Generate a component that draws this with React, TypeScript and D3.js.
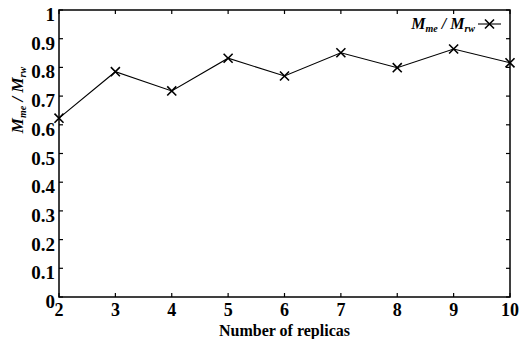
import { useEffect, useRef } from 'react';
import * as d3 from 'd3';

const replicas = [2, 3, 4, 5, 6, 7, 8, 9, 10];
const ratio = [0.623, 0.785, 0.718, 0.832, 0.77, 0.851, 0.799, 0.864, 0.816];
const yTicks = [0, 0.1, 0.2, 0.3, 0.4, 0.5, 0.6, 0.7, 0.8, 0.9, 1];
const yTickLabels = ['0', '0.1', '0.2', '0.3', '0.4', '0.5', '0.6', '0.7', '0.8', '0.9', '1'];

const App = () => {
  const svgRef = useRef<SVGSVGElement>(null);

  useEffect(() => {
    const width = 520;
    const height = 339;
    const margin = { top: 10, right: 10, bottom: 42, left: 59 };
    const font = 'Liberation Serif, Times New Roman, DejaVu Serif, serif';

    const svg = d3.select(svgRef.current);
    svg.selectAll('*').remove();
    svg.attr('width', width).attr('height', height).attr('font-family', font);

    const innerWidth = width - margin.left - margin.right;
    const innerHeight = height - margin.top - margin.bottom;

    const chart = svg.append('g')
      .attr('transform', `translate(${margin.left},${margin.top})`);

    const x = d3.scaleLinear().domain([2, 10]).range([0, innerWidth]);
    const y = d3.scaleLinear().domain([0, 1]).range([innerHeight, 0]);

    // ticks on all four sides, pointing inward
    const tickLen = 4;
    const tickStyle = (g: any) => g.attr('stroke', '#000').attr('stroke-width', 1.2);
    replicas.forEach(v => {
      chart.append('line').attr('x1', x(v)).attr('x2', x(v)).attr('y1', innerHeight).attr('y2', innerHeight - tickLen).call(tickStyle);
      chart.append('line').attr('x1', x(v)).attr('x2', x(v)).attr('y1', 0).attr('y2', tickLen).call(tickStyle);
    });
    yTicks.forEach(v => {
      chart.append('line').attr('x1', 0).attr('x2', tickLen).attr('y1', y(v)).attr('y2', y(v)).call(tickStyle);
      chart.append('line').attr('x1', innerWidth).attr('x2', innerWidth - tickLen).attr('y1', y(v)).attr('y2', y(v)).call(tickStyle);
    });

    // box
    chart.append('rect')
      .attr('width', innerWidth)
      .attr('height', innerHeight)
      .attr('fill', 'none')
      .attr('stroke', '#000')
      .attr('stroke-width', 1.5);

    // tick labels
    chart.selectAll('.xl')
      .data(replicas)
      .enter()
      .append('text')
      .attr('x', d => x(d))
      .attr('y', innerHeight + 19)
      .attr('text-anchor', 'middle')
      .attr('font-weight', 'bold')
      .attr('font-size', 18)
      .text(d => d);

    chart.selectAll('.yl')
      .data(yTicks)
      .enter()
      .append('text')
      .attr('x', -4)
      .attr('y', d => y(d) + 11)
      .attr('text-anchor', 'end')
      .attr('font-weight', 'bold')
      .attr('font-size', 19)
      .text((d, i) => yTickLabels[i]);

    // axis titles
    svg.append('text')
      .attr('x', margin.left + innerWidth / 2)
      .attr('y', 336)
      .attr('text-anchor', 'middle')
      .attr('font-weight', 'bold')
      .attr('font-size', 16)
      .text('Number of replicas');

    const yt = svg.append('text')
      .attr('transform', 'translate(23,100) rotate(-90)')
      .attr('text-anchor', 'middle')
      .attr('font-weight', 'bold')
      .attr('font-style', 'italic')
      .attr('font-size', 17);
    yt.append('tspan').text('M');
    yt.append('tspan').attr('dy', 3).attr('font-size', 10).text('me');
    yt.append('tspan').attr('dy', -3).text(' / M');
    yt.append('tspan').attr('dy', 3).attr('font-size', 10).text('rw');

    // line and markers
    const line = d3.line<number>()
      .x((d, i) => x(replicas[i]))
      .y(d => y(d));

    chart.append('path')
      .datum(ratio)
      .attr('d', line)
      .attr('fill', 'none')
      .attr('stroke', '#000')
      .attr('stroke-width', 1.1);

    const cross = d3.symbol().type(d3.symbolX).size(55);
    chart.selectAll('.pt')
      .data(ratio)
      .enter()
      .append('path')
      .attr('d', cross)
      .attr('transform', (d, i) => `translate(${x(replicas[i])},${y(d)})`)
      .attr('fill', 'none')
      .attr('stroke', '#000')
      .attr('stroke-width', 1.6);

    // legend
    const lg = svg.append('g');
    const lt = lg.append('text')
      .attr('x', 475)
      .attr('y', 29)
      .attr('text-anchor', 'end')
      .attr('font-weight', 'bold')
      .attr('font-style', 'italic')
      .attr('font-size', 16);
    lt.append('tspan').text('M');
    lt.append('tspan').attr('dy', 3).attr('font-size', 10).text('me');
    lt.append('tspan').attr('dy', -3).text(' / M');
    lt.append('tspan').attr('dy', 3).attr('font-size', 10).text('rw');

    lg.append('line')
      .attr('x1', 478).attr('x2', 501).attr('y1', 24).attr('y2', 24)
      .attr('stroke', '#000').attr('stroke-width', 1.1);
    lg.append('path')
      .attr('d', cross)
      .attr('transform', 'translate(489.5,24)')
      .attr('fill', 'none')
      .attr('stroke', '#000')
      .attr('stroke-width', 1.6);
  }, []);

  return (
    <div style={{ position: 'absolute', top: 0, left: 0, background: '#fff' }}>
      <svg ref={svgRef} style={{ display: 'block' }}></svg>
    </div>
  );
};

export default App;
